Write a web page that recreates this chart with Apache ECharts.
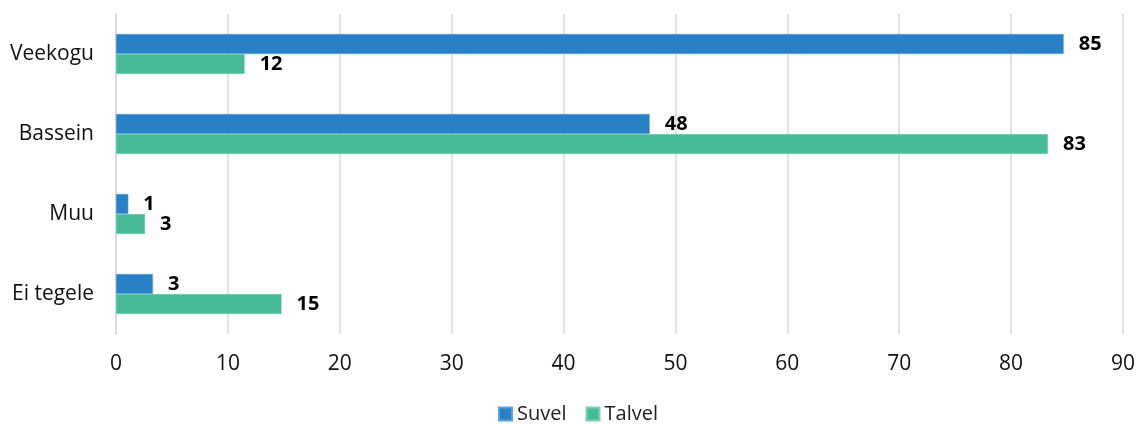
<!DOCTYPE html>
<html><head><meta charset="utf-8">
<script src="https://cdn.jsdelivr.net/npm/echarts@6/dist/echarts.min.js"></script>
<style>html,body{margin:0;padding:0;background:#fff}#c{width:1138px;height:424px}</style>
</head><body><div id="c"></div>
<script>
const categories = ['Veekogu', 'Bassein', 'Muu', 'Ei tegele'];
const suvel = [84.7, 47.7, 1.1, 3.3];
const talvel = [11.5, 83.3, 2.6, 14.8];
const xTicks = [0, 10, 20, 30, 40, 50, 60, 70, 80, 90];
const FONT = '"Open Sans", sans-serif';
const chart = echarts.init(document.getElementById('c'));
const lbl = {show: true, position: 'right', distance: 15, color: '#000', fontWeight: 'bold', fontSize: 20, fontFamily: FONT,
  formatter: p => Math.round(p.value)};
chart.setOption({
  animation: false,
  grid: {left: 116, right: 15, top: 14, bottom: 90, containLabel: false},
  legend: {top: 404, left: 498, itemWidth: 13, itemHeight: 13, itemGap: 19, icon: 'rect', padding: 0,
    textStyle: {fontSize: 20, fontFamily: FONT, color: '#222'}, data: ['Suvel', 'Talvel']},
  xAxis: {type: 'value', min: xTicks[0], max: xTicks[xTicks.length-1], interval: 10,
    axisLine: {show: false}, axisTick: {show: false},
    splitLine: {lineStyle: {color: '#d9d9d9', width: 1.5}},
    axisLabel: {fontSize: 21, fontFamily: FONT, color: '#111', margin: 20}},
  yAxis: {type: 'category', data: categories, inverse: true,
    axisLine: {show: true, lineStyle: {color: '#d9d9d9', width: 1.5}}, axisTick: {show: false},
    axisLabel: {fontSize: 21, fontFamily: FONT, color: '#111', margin: 22}},
  series: [
    {name: 'Suvel', type: 'bar', data: suvel, barCategoryGap: '50%', barGap: '0%',
     itemStyle: {color: '#2880c6', borderColor: '#5aa3dc', borderWidth: 0.5}, label: lbl},
    {name: 'Talvel', type: 'bar', data: talvel, barCategoryGap: '50%', barGap: '0%',
     itemStyle: {color: '#45bc96', borderColor: '#7fd3b5', borderWidth: 0.5}, label: lbl}
  ]
});
</script></body></html>
